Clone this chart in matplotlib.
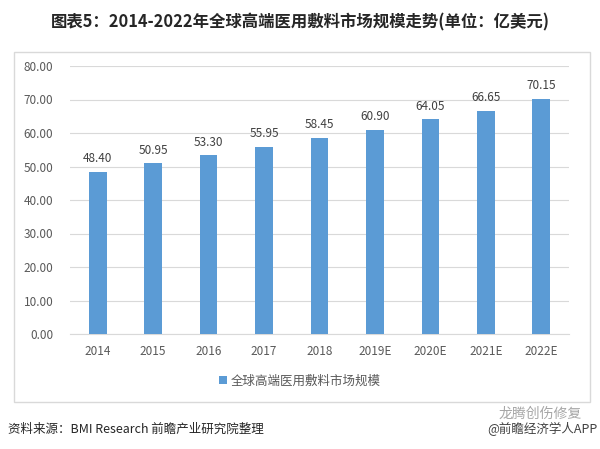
import matplotlib.pyplot as plt
from matplotlib.patches import Rectangle

plt.rcParams['font.family'] = ['Noto Sans CJK SC', 'DejaVu Sans']

years = ['2014', '2015', '2016', '2017', '2018', '2019E', '2020E', '2021E', '2022E']
values = [48.40, 50.95, 53.30, 55.95, 58.45, 60.90, 64.05, 66.65, 70.15]
series_name = '全球高端医用敷料市场规模'

fig = plt.figure(figsize=(6, 4.49), dpi=100)

# outer frame
fig.patches.append(Rectangle((14 / 600, 1 - 402 / 449), 576 / 600, 350 / 449,
                             transform=fig.transFigure, fill=False,
                             edgecolor='#d9d9d9', linewidth=1))

ax = fig.add_axes([70 / 600, 1 - 334 / 449, 499 / 600, 268 / 449])
bars = ax.bar(years, values, width=0.32, color='#5b9bd5', label=series_name, zorder=3)
for b, v in zip(bars, values):
    ax.text(b.get_x() + b.get_width() / 2, v + 2, f'{v:.2f}', ha='center', va='bottom',
            fontsize=8.5, color='#404040')

ax.set_ylim(0, 80)
ax.set_xlim(-0.5, len(years) - 0.5)
ax.set_yticks(range(0, 81, 10))
ax.set_yticklabels([f'{t:.2f}' for t in range(0, 81, 10)])
ax.grid(axis='y', color='#d9d9d9', linewidth=0.8, zorder=0)
for s in ['top', 'right', 'left']:
    ax.spines[s].set_visible(False)
ax.spines['bottom'].set_color('#d9d9d9')
ax.tick_params(axis='both', length=0, labelsize=8.5, colors='#595959')
ax.tick_params(axis='x', pad=8)
ax.tick_params(axis='y', pad=12)

fig.legend(handles=[bars], labels=[series_name], loc='center', bbox_to_anchor=(0.5, 1 - 381 / 449),
           frameon=False, fontsize=9, handlelength=0.6, handleheight=0.6, handletextpad=0.3,
           labelcolor='#595959')

fig.text(0.5, 1 - 22 / 449, '图表5：2014-2022年全球高端医用敷料市场规模走势(单位：亿美元)',
         ha='center', va='center', fontsize=11.8, fontweight='bold', color='#262626')
fig.text(8 / 600, 1 - 429 / 449, '资料来源：BMI Research 前瞻产业研究院整理',
         ha='left', va='center', fontsize=9, color='#262626')
fig.text(598 / 600, 1 - 429 / 449, '@前瞻经济学人APP',
         ha='right', va='center', fontsize=9, color='#404040')
fig.text(540 / 600, 1 - 414 / 449, '龙腾创伤修复',
         ha='center', va='center', fontsize=10, color='#808080', alpha=0.7)

fig.savefig('out.png', dpi=100)
